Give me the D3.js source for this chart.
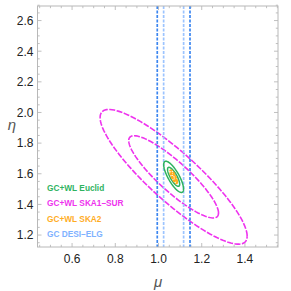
<!DOCTYPE html>
<html>
<head>
<meta charset="utf-8">
<script src="https://cdn.jsdelivr.net/npm/d3@7"></script>
<style>
  body { margin: 0; background: #fff; }
  svg { display: block; font-family: "Liberation Sans", Arial, sans-serif; }
</style>
</head>
<body>
<div id="chart"></div>
<script>
// best fit point
var center_mu = 1.07, center_eta = 1.58;

// experiments: marginal errors and correlation
var exp_names = ["GC+WL Euclid", "GC+WL SKA1\u2013SUR", "GC+WL SKA2", "GC DESI\u2013ELG"];
var exp_colors = ["#2fb35f", "#ee33ee", "#ffad1f", "#7fb2ff"];
var sigma_mu = [0.0185, 0.137, 0.0065, 0.0305];
var sigma_eta = [0.041, 0.177, 0.017, null];
var rho = [-0.78, -0.88, -0.8, null];

// delta chi^2 for 1 and 2 sigma (2 params)
var levels = [2.30, 6.17];

var x_ticks = [0.6, 0.8, 1.0, 1.2, 1.4];
var y_ticks = [1.2, 1.4, 1.6, 1.8, 2.0, 2.2, 2.4, 2.6];

var svg = d3.select("#chart").append("svg").attr("width", 291).attr("height", 291),
  margin = {top: 6, right: 13, bottom: 44, left: 37.5},
  width = +svg.attr("width") - margin.left - margin.right,
  height = +svg.attr("height") - margin.top - margin.bottom,
  g = svg.append("g").attr("transform", "translate(" + margin.left + "," + margin.top + ")");

var x = d3.scaleLinear().domain([0.44, 1.553]).range([0, width]);
var y = d3.scaleLinear().domain([1.122, 2.695]).range([height, 0]);

g.append("defs").append("clipPath").attr("id", "clip")
  .append("rect").attr("width", width).attr("height", height);

// frame ticks, mathematica style
var minor_x = d3.range(0.45, 1.551, 0.05).map(function (d) { return +d.toFixed(2); });
var minor_y = d3.range(1.15, 2.7, 0.05).map(function (d) { return +d.toFixed(2); });

function isMajor(v) { return Math.abs(v * 5 - Math.round(v * 5)) < 1e-6; }

var ticks = g.append("g").attr("stroke", "#b0b0b0").attr("stroke-width", 0.8);
minor_x.forEach(function (v) {
  var l = isMajor(v) ? 4 : 2.2;
  ticks.append("line").attr("x1", x(v)).attr("x2", x(v)).attr("y1", height).attr("y2", height - l);
  ticks.append("line").attr("x1", x(v)).attr("x2", x(v)).attr("y1", 0).attr("y2", l);
});
minor_y.forEach(function (v) {
  var l = isMajor(v) ? 4 : 2.2;
  ticks.append("line").attr("y1", y(v)).attr("y2", y(v)).attr("x1", 0).attr("x2", l);
  ticks.append("line").attr("y1", y(v)).attr("y2", y(v)).attr("x1", width).attr("x2", width - l);
});

var plot = g.append("g").attr("clip-path", "url(#clip)");

function ellipse(i, k) {
  var pts = d3.range(0, 361, 3).map(function (a) {
    var t = a * Math.PI / 180;
    var r = Math.sqrt(k);
    return [center_mu + r * sigma_mu[i] * Math.cos(t),
      center_eta + r * sigma_eta[i] * (rho[i] * Math.cos(t) + Math.sqrt(1 - rho[i] * rho[i]) * Math.sin(t))];
  });
  return d3.line().x(function (d) { return x(d[0]); }).y(function (d) { return y(d[1]); })(pts);
}

// SKA1-SUR
levels.forEach(function (k) {
  plot.append("path").attr("d", ellipse(1, k)).attr("fill", "none")
    .attr("stroke", exp_colors[1]).attr("stroke-width", 1.6).attr("stroke-dasharray", "6,1.5");
});

// DESI-ELG vertical bands
var desi_cols = ["#9cc4ff", "#3c86f0"];
levels.forEach(function (k, j) {
  var h = Math.sqrt(k) * sigma_mu[3];
  [center_mu - h, center_mu + h].forEach(function (v) {
    plot.append("line").attr("x1", x(v)).attr("x2", x(v)).attr("y1", 0).attr("y2", height)
      .attr("stroke", desi_cols[j]).attr("stroke-width", 1.7).attr("stroke-dasharray", "3,1.5");
  });
});

// Euclid
levels.forEach(function (k) {
  plot.append("path").attr("d", ellipse(0, k)).attr("fill", "none")
    .attr("stroke", exp_colors[0]).attr("stroke-width", 1.5);
});

// SKA2
levels.forEach(function (k, j) {
  plot.append("path").attr("d", ellipse(2, k)).attr("fill", "none")
    .attr("stroke", exp_colors[2]).attr("stroke-width", 2).attr("stroke-dasharray", "3,1");
});

// frame
g.append("rect").attr("width", width).attr("height", height)
  .attr("fill", "none").attr("stroke", "#b8b8b8").attr("stroke-width", 1);

// tick labels
g.selectAll(".xl").data(x_ticks).enter().append("text")
  .attr("x", function (d) { return x(d); }).attr("y", height + 16)
  .attr("text-anchor", "middle").attr("font-size", 12).attr("fill", "#222")
  .text(function (d) { return d.toFixed(1); });
g.selectAll(".yl").data(y_ticks).enter().append("text")
  .attr("x", -4).attr("y", function (d) { return y(d); }).attr("dy", "0.36em")
  .attr("text-anchor", "end").attr("font-size", 12).attr("fill", "#222")
  .text(function (d) { return d.toFixed(1); });

// axis labels
svg.append("text").attr("x", 158).attr("y", 287).attr("text-anchor", "middle")
  .attr("font-size", 15).attr("font-style", "italic").attr("fill", "#555").text("\u03bc");
svg.append("text").attr("x", 12).attr("y", 130).attr("text-anchor", "middle")
  .attr("font-size", 15).attr("font-style", "italic").attr("fill", "#555").text("\u03b7");

// legend
exp_names.forEach(function (n, i) {
  g.append("text").attr("x", 47 - margin.left).attr("y", 188 - margin.top + i * 15.4).attr("dy", "0.35em")
    .attr("font-size", 8.3).attr("font-weight", "bold").attr("fill", exp_colors[i]).text(n);
});
</script>
</body>
</html>
